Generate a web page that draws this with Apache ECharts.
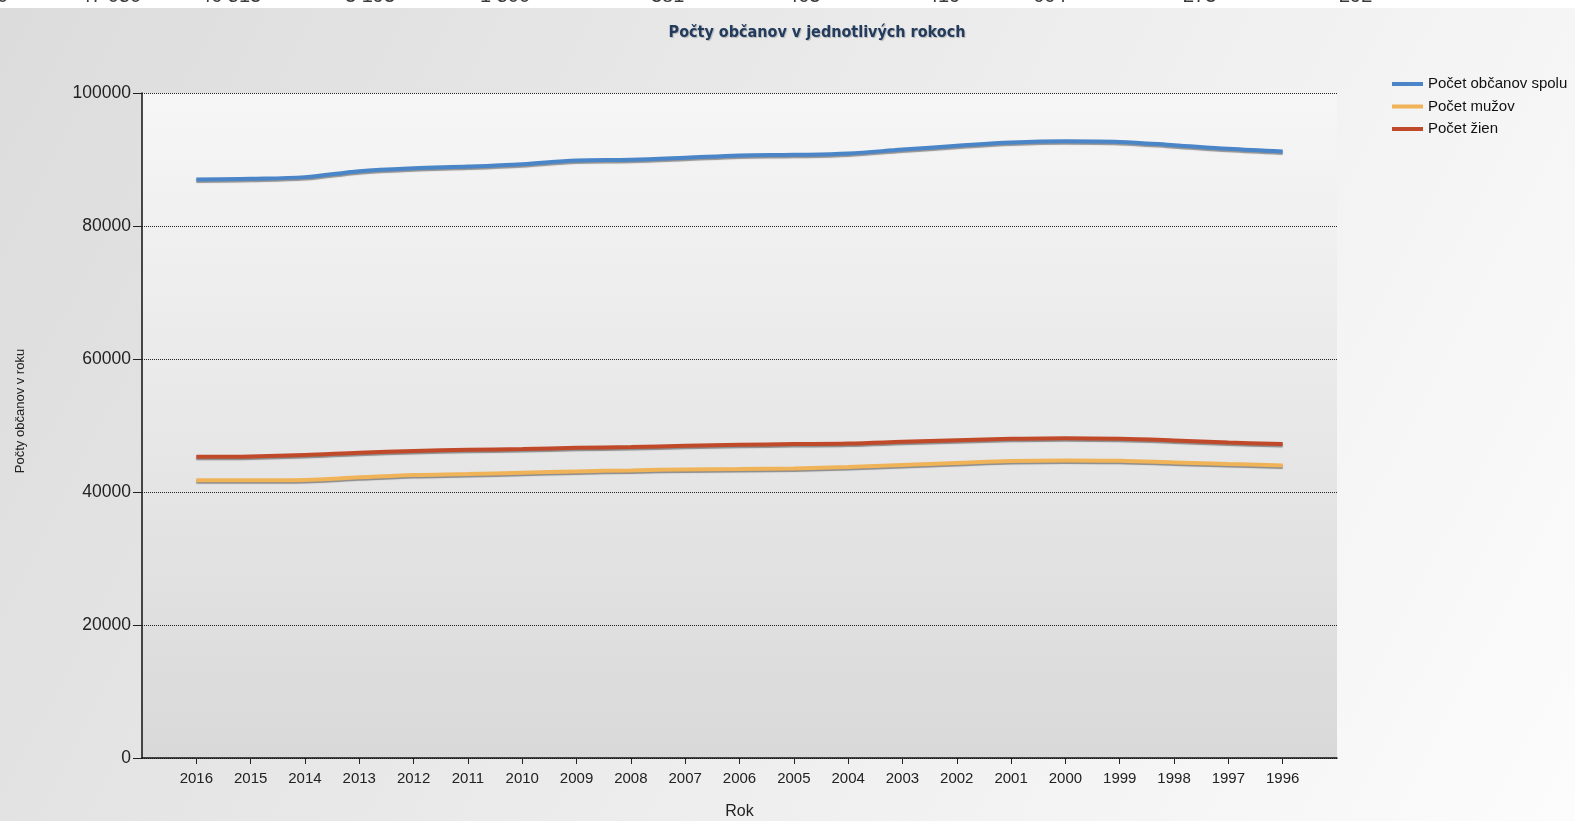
<!DOCTYPE html>
<html>
<head>
<meta charset="utf-8">
<script src="https://cdn.jsdelivr.net/npm/echarts@6/dist/echarts.min.js"></script>
<style>
html,body{margin:0;padding:0;background:#fff;}
#chart{width:1575px;height:821px;}
</style>
</head>
<body>
<div id="chart"></div>
<script>
// ---- data ----
var years = [2016, 2015, 2014, 2013, 2012, 2011, 2010, 2009, 2008, 2007, 2006, 2005, 2004, 2003, 2002, 2001, 2000, 1999, 1998, 1997, 1996];
var total = [87000, 87100, 87350, 88250, 88700, 88950, 89300, 89850, 89950, 90250, 90600, 90700, 90900, 91500, 92050, 92550, 92750, 92650, 92150, 91600, 91200];
var men   = [41750, 41750, 41800, 42200, 42550, 42700, 42900, 43100, 43250, 43400, 43450, 43550, 43750, 44050, 44350, 44650, 44750, 44700, 44450, 44200, 44000];
var women = [45300, 45350, 45550, 45900, 46150, 46350, 46450, 46650, 46750, 46950, 47100, 47200, 47300, 47550, 47800, 48000, 48100, 48000, 47750, 47450, 47200];
var seriesNames = ['Počet občanov spolu', 'Počet mužov', 'Počet žien'];
var yTicks = [0, 20000, 40000, 60000, 80000, 100000];
var titleText = 'Počty občanov v jednotlivých rokoch';
var yAxisTitle = 'Počty občanov v roku';
var xAxisTitle = 'Rok';
var topStripTexts = ['0', '47 050', '46 513', '3 193', '1 500', '381', '463', '419', '664', '273', '292'];

// ---- layout / style ----
var stripX = [-3, 80, 200, 345, 480, 651, 787, 927, 1033, 1183, 1339];
var colors = ['#4a85c8', '#f0b358', '#c0492a'];

function pairs(vals) {
  return years.map(function (y, i) { return [y, vals[i]]; });
}

var chart = echarts.init(document.getElementById('chart'), null, {renderer: 'canvas'});

var graphics = [
  {
    type: 'rect', z: -10, silent: true,
    shape: {x: 0, y: 8, width: 1575, height: 813},
    style: {
      fill: new echarts.graphic.LinearGradient(0, 0, 1, 1, [
        {offset: 0, color: '#dcdcdc'},
        {offset: 1, color: '#fcfcfc'}
      ])
    }
  },
  {
    type: 'text', silent: true,
    x: 20, y: 411, rotation: Math.PI / 2,
    style: {text: yAxisTitle, fill: '#222', font: '13px "Liberation Sans", Arial, sans-serif', align: 'center', verticalAlign: 'middle'}
  }
];
topStripTexts.forEach(function (t, i) {
  graphics.push({
    type: 'text', z: -5, silent: true,
    x: stripX[i], y: 6,
    style: {text: t, fill: '#3a3a3a', font: '20px "Liberation Sans", Arial, sans-serif', verticalAlign: 'bottom', align: 'left'}
  });
});

var lineStyleBase = {width: 4, shadowColor: 'rgba(0,0,0,0.4)', shadowBlur: 1, shadowOffsetY: 1.5};

var option = {
  animation: false,
  textStyle: {fontFamily: '"Liberation Sans", Arial, sans-serif'},
  title: {
    text: titleText,
    left: 812, top: 20,
    textAlign: 'center',
    textStyle: {
      fontFamily: '"DejaVu Sans Condensed", "DejaVu Sans", sans-serif',
      fontSize: 16, fontWeight: 'bold', color: '#233c5e',
      textShadowColor: 'rgba(120,120,120,0.45)', textShadowOffsetX: 1, textShadowOffsetY: 1, textShadowBlur: 1
    }
  },
  legend: {
    data: seriesNames,
    orient: 'vertical',
    left: 1387, top: 71,
    icon: 'rect',
    itemWidth: 31, itemHeight: 4,
    itemGap: 6.5,
    textStyle: {fontSize: 15, color: '#111', lineHeight: 16},
    selectedMode: false
  },
  graphic: graphics,
  grid: {
    left: 142, right: 238, top: 93, bottom: 63,
    outerBoundsMode: 'none',
    containLabel: false,
    show: true,
    borderWidth: 0,
    backgroundColor: new echarts.graphic.LinearGradient(0, 0, 0, 1, [
      {offset: 0, color: '#f6f6f6'},
      {offset: 1, color: '#d9d9d9'}
    ])
  },
  xAxis: {
    type: 'value',
    min: 1995, max: 2017, interval: 1,
    inverse: true,
    name: xAxisTitle,
    nameLocation: 'middle',
    nameGap: 46,
    nameTextStyle: {fontSize: 16, color: '#222'},
    axisLine: {show: true, onZero: false, lineStyle: {color: '#111', width: 1.5}},
    axisTick: {show: true, length: 6, customValues: years, lineStyle: {color: '#222'}},
    axisLabel: {fontSize: 15, color: '#222', margin: 13, customValues: years, formatter: function (v) { return String(v); }},
    splitLine: {show: false}
  },
  yAxis: {
    type: 'value',
    min: 0, max: 100000, interval: 20000,
    axisLine: {show: true, lineStyle: {color: '#111', width: 1.5}},
    axisTick: {show: true, length: 9, lineStyle: {color: '#222'}},
    axisLabel: {fontSize: 17.5, color: '#222', margin: 11, customValues: yTicks, formatter: function (v) { return String(v); }},
    splitLine: {show: true, lineStyle: {color: '#222', type: [1, 1], width: 1}}
  },
  series: [
    {name: seriesNames[0], type: 'line', data: pairs(total), smooth: 0.35, showSymbol: false, color: colors[0], lineStyle: Object.assign({}, lineStyleBase, {color: colors[0]}), z: 3},
    {name: seriesNames[1], type: 'line', data: pairs(men), smooth: 0.35, showSymbol: false, color: colors[1], lineStyle: Object.assign({}, lineStyleBase, {color: colors[1]}), z: 3},
    {name: seriesNames[2], type: 'line', data: pairs(women), smooth: 0.35, showSymbol: false, color: colors[2], lineStyle: Object.assign({}, lineStyleBase, {color: colors[2]}), z: 3}
  ]
};
chart.setOption(option);
</script>
</body>
</html>
